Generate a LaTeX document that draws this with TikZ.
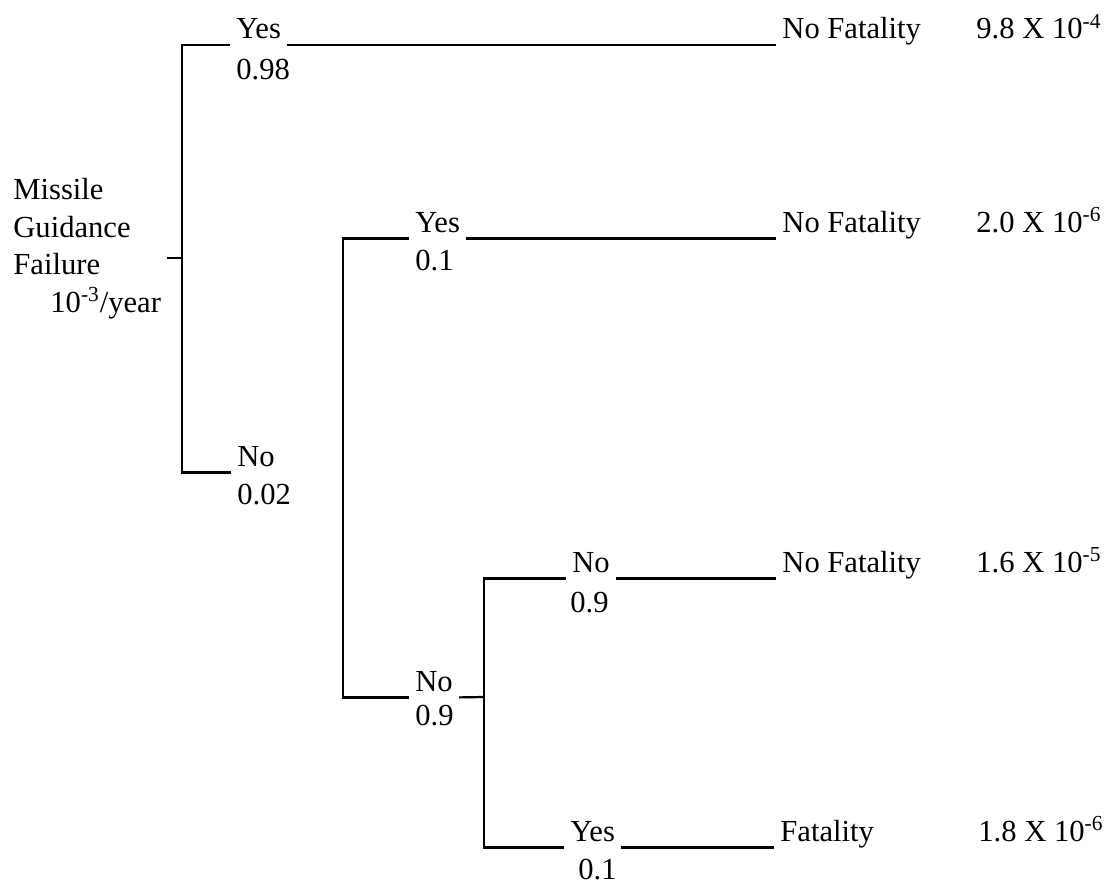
\documentclass[tikz,border=0pt]{standalone}
\usepackage{fontspec}
\setmainfont{Liberation Serif}
\usetikzlibrary{positioning}
\tikzset{
  branch/.style={line width=1.1pt},
  lbl/.style={anchor=base west,inner xsep=3pt,inner ysep=3pt,text depth=0pt,
    font=\fontsize{15.3}{18.75}\selectfont},
}

\begin{document}
\begin{tikzpicture}[x=0.5pt,y=-0.5pt]
  \useasboundingbox (0,0) rectangle (1108,883);
  % initiating event
  \node[lbl,align=left,anchor=north west] (root) at (7,172)
    {Missile\\Guidance\\Failure\\\hspace*{18.5pt}10\textsuperscript{-3}/year};
  % first branching
  \node[lbl] (yA) at (230,39) {Yes};
  \node[lbl] (pA) at (230,80) {0.98};
  \node[lbl] (nA) at (231,466) {No};
  \node[lbl] (pnA) at (231,504) {0.02};
  % second branching
  \node[lbl] (yB) at (409,232) {Yes};
  \node[lbl] (pB) at (409,270) {0.1};
  \node[lbl] (nB) at (409,691) {No};
  \node[lbl] (pnB) at (409,725) {0.9};
  % third branching
  \node[lbl] (nC) at (566,572) {No};
  \node[lbl] (pnC) at (564,612) {0.9};
  \node[lbl] (yC) at (564,841) {Yes};
  \node[lbl] (pyC) at (572,879) {0.1};
  % outcomes
  \node[lbl] (oA) at (776,39) {No Fatality};
  \node[lbl] (vA) at (970,39) {9.8 X 10\textsuperscript{-4}};
  \node[lbl] (oB) at (776,232) {No Fatality};
  \node[lbl] (vB) at (970,232) {2.0 X 10\textsuperscript{-6}};
  \node[lbl] (oC) at (776,572) {No Fatality};
  \node[lbl] (vC) at (970,572) {1.6 X 10\textsuperscript{-5}};
  \node[lbl] (oD) at (774,841) {Fatality};
  \node[lbl] (vD) at (972,841) {1.8 X 10\textsuperscript{-6}};
  % junctions
  \coordinate (jA) at (182,258);
  \coordinate (jB) at (343,460);
  \coordinate (jC) at (484,697);
  \draw[branch] (root.east |- jA) -- (jA);
  \draw[branch] (yA.south west) -| (jA) |- (nA.south west);
  \draw[branch] (yA.south east) -- (oA.south west);
  \draw[branch] (yB.south west) -| (jB) |- (nB.south west);
  \draw[branch] (yB.south east) -- (oB.south west);
  \draw[branch] (nB.south east) -- (jC);
  \draw[branch] (nC.south west) -| (jC) |- (yC.south west);
  \draw[branch] (nC.south east) -- (oC.south west);
  \draw[branch] (yC.south east) -- (oD.south west);
\end{tikzpicture}
\end{document}
